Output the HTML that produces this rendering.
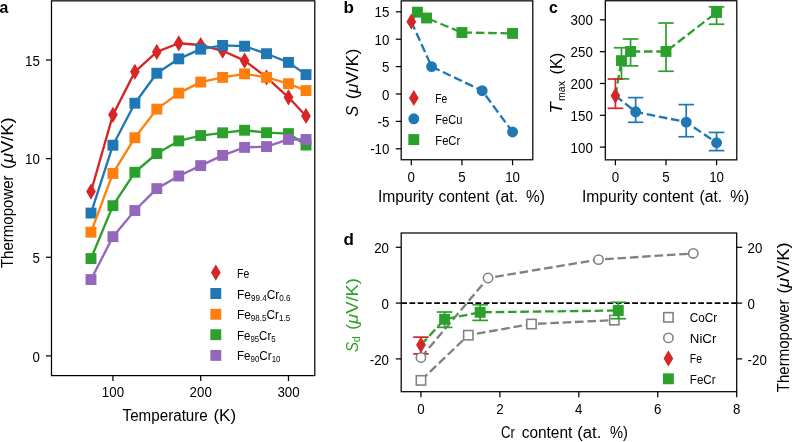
<!DOCTYPE html>
<html><head><meta charset="utf-8"><title>Figure</title>
<style>
html,body{margin:0;padding:0;background:#fff;}
body{width:794px;height:442px;overflow:hidden;}
svg{display:block;will-change:transform;font-family:"Liberation Sans", sans-serif;}
</style></head>
<body><svg width="794" height="442" viewBox="0 0 794 442">
<rect width="794" height="442" fill="#fff"/>
<g id="pa">
<polyline points="91,191.58 112.94,114.85 134.88,71.86 156.82,51.93 178.76,43.26 200.7,45.03 222.65,50.75 244.59,60.61 266.53,77.38 288.47,97.3 306.02,115.94" fill="none" stroke="#d62728" stroke-width="2.33" stroke-linejoin="round" stroke-linecap="round"/>
<path d="M91 184.98L94.96 191.58L91 198.18L87.03 191.58Z" fill="#d62728" stroke="#d62728" stroke-width="1.56" stroke-linejoin="miter"/>
<path d="M112.94 108.25L116.9 114.85L112.94 121.45L108.98 114.85Z" fill="#d62728" stroke="#d62728" stroke-width="1.56" stroke-linejoin="miter"/>
<path d="M134.88 65.25L138.84 71.86L134.88 78.46L130.92 71.86Z" fill="#d62728" stroke="#d62728" stroke-width="1.56" stroke-linejoin="miter"/>
<path d="M156.82 45.33L160.78 51.93L156.82 58.54L152.86 51.93Z" fill="#d62728" stroke="#d62728" stroke-width="1.56" stroke-linejoin="miter"/>
<path d="M178.76 36.65L182.72 43.26L178.76 49.86L174.8 43.26Z" fill="#d62728" stroke="#d62728" stroke-width="1.56" stroke-linejoin="miter"/>
<path d="M200.7 38.43L204.66 45.03L200.7 51.63L196.74 45.03Z" fill="#d62728" stroke="#d62728" stroke-width="1.56" stroke-linejoin="miter"/>
<path d="M222.65 44.15L226.61 50.75L222.65 57.35L218.68 50.75Z" fill="#d62728" stroke="#d62728" stroke-width="1.56" stroke-linejoin="miter"/>
<path d="M244.59 54.01L248.55 60.61L244.59 67.21L240.63 60.61Z" fill="#d62728" stroke="#d62728" stroke-width="1.56" stroke-linejoin="miter"/>
<path d="M266.53 70.78L270.49 77.38L266.53 83.98L262.57 77.38Z" fill="#d62728" stroke="#d62728" stroke-width="1.56" stroke-linejoin="miter"/>
<path d="M288.47 90.7L292.43 97.3L288.47 103.9L284.51 97.3Z" fill="#d62728" stroke="#d62728" stroke-width="1.56" stroke-linejoin="miter"/>
<path d="M306.02 109.34L309.98 115.94L306.02 122.54L302.06 115.94Z" fill="#d62728" stroke="#d62728" stroke-width="1.56" stroke-linejoin="miter"/>
<polyline points="91,213.08 112.94,145.23 134.88,103.22 156.82,73.24 178.76,58.84 200.7,49.17 222.65,45.43 244.59,46.21 266.53,53.71 288.47,62.39 306.02,74.62" fill="none" stroke="#1f77b4" stroke-width="2.33" stroke-linejoin="round" stroke-linecap="round"/>
<rect x="86.33" y="208.41" width="9.34" height="9.34" fill="#1f77b4" stroke="#1f77b4" stroke-width="1.56"/>
<rect x="108.27" y="140.56" width="9.34" height="9.34" fill="#1f77b4" stroke="#1f77b4" stroke-width="1.56"/>
<rect x="130.21" y="98.55" width="9.34" height="9.34" fill="#1f77b4" stroke="#1f77b4" stroke-width="1.56"/>
<rect x="152.15" y="68.57" width="9.34" height="9.34" fill="#1f77b4" stroke="#1f77b4" stroke-width="1.56"/>
<rect x="174.09" y="54.17" width="9.34" height="9.34" fill="#1f77b4" stroke="#1f77b4" stroke-width="1.56"/>
<rect x="196.04" y="44.51" width="9.34" height="9.34" fill="#1f77b4" stroke="#1f77b4" stroke-width="1.56"/>
<rect x="217.98" y="40.76" width="9.34" height="9.34" fill="#1f77b4" stroke="#1f77b4" stroke-width="1.56"/>
<rect x="239.92" y="41.55" width="9.34" height="9.34" fill="#1f77b4" stroke="#1f77b4" stroke-width="1.56"/>
<rect x="261.86" y="49.04" width="9.34" height="9.34" fill="#1f77b4" stroke="#1f77b4" stroke-width="1.56"/>
<rect x="283.8" y="57.72" width="9.34" height="9.34" fill="#1f77b4" stroke="#1f77b4" stroke-width="1.56"/>
<rect x="301.36" y="69.95" width="9.34" height="9.34" fill="#1f77b4" stroke="#1f77b4" stroke-width="1.56"/>
<polyline points="91,232.21 112.94,173.43 134.88,137.73 156.82,109.13 178.76,93.16 200.7,82.11 222.65,77.38 244.59,73.83 266.53,77.38 288.47,83.69 306.02,90.59" fill="none" stroke="#ff7f0e" stroke-width="2.33" stroke-linejoin="round" stroke-linecap="round"/>
<rect x="86.33" y="227.54" width="9.34" height="9.34" fill="#ff7f0e" stroke="#ff7f0e" stroke-width="1.56"/>
<rect x="108.27" y="168.76" width="9.34" height="9.34" fill="#ff7f0e" stroke="#ff7f0e" stroke-width="1.56"/>
<rect x="130.21" y="133.06" width="9.34" height="9.34" fill="#ff7f0e" stroke="#ff7f0e" stroke-width="1.56"/>
<rect x="152.15" y="104.47" width="9.34" height="9.34" fill="#ff7f0e" stroke="#ff7f0e" stroke-width="1.56"/>
<rect x="174.09" y="88.49" width="9.34" height="9.34" fill="#ff7f0e" stroke="#ff7f0e" stroke-width="1.56"/>
<rect x="196.04" y="77.44" width="9.34" height="9.34" fill="#ff7f0e" stroke="#ff7f0e" stroke-width="1.56"/>
<rect x="217.98" y="72.71" width="9.34" height="9.34" fill="#ff7f0e" stroke="#ff7f0e" stroke-width="1.56"/>
<rect x="239.92" y="69.16" width="9.34" height="9.34" fill="#ff7f0e" stroke="#ff7f0e" stroke-width="1.56"/>
<rect x="261.86" y="72.71" width="9.34" height="9.34" fill="#ff7f0e" stroke="#ff7f0e" stroke-width="1.56"/>
<rect x="283.8" y="79.02" width="9.34" height="9.34" fill="#ff7f0e" stroke="#ff7f0e" stroke-width="1.56"/>
<rect x="301.36" y="85.92" width="9.34" height="9.34" fill="#ff7f0e" stroke="#ff7f0e" stroke-width="1.56"/>
<polyline points="91,258.54 112.94,205.68 134.88,172.25 156.82,153.51 178.76,140.89 200.7,135.56 222.65,132.8 244.59,130.24 266.53,132.7 288.47,133.59 306.02,145.03" fill="none" stroke="#2ca02c" stroke-width="2.33" stroke-linejoin="round" stroke-linecap="round"/>
<rect x="86.33" y="253.87" width="9.34" height="9.34" fill="#2ca02c" stroke="#2ca02c" stroke-width="1.56"/>
<rect x="108.27" y="201.01" width="9.34" height="9.34" fill="#2ca02c" stroke="#2ca02c" stroke-width="1.56"/>
<rect x="130.21" y="167.58" width="9.34" height="9.34" fill="#2ca02c" stroke="#2ca02c" stroke-width="1.56"/>
<rect x="152.15" y="148.84" width="9.34" height="9.34" fill="#2ca02c" stroke="#2ca02c" stroke-width="1.56"/>
<rect x="174.09" y="136.22" width="9.34" height="9.34" fill="#2ca02c" stroke="#2ca02c" stroke-width="1.56"/>
<rect x="196.04" y="130.89" width="9.34" height="9.34" fill="#2ca02c" stroke="#2ca02c" stroke-width="1.56"/>
<rect x="217.98" y="128.13" width="9.34" height="9.34" fill="#2ca02c" stroke="#2ca02c" stroke-width="1.56"/>
<rect x="239.92" y="125.57" width="9.34" height="9.34" fill="#2ca02c" stroke="#2ca02c" stroke-width="1.56"/>
<rect x="261.86" y="128.03" width="9.34" height="9.34" fill="#2ca02c" stroke="#2ca02c" stroke-width="1.56"/>
<rect x="283.8" y="128.92" width="9.34" height="9.34" fill="#2ca02c" stroke="#2ca02c" stroke-width="1.56"/>
<rect x="301.36" y="140.36" width="9.34" height="9.34" fill="#2ca02c" stroke="#2ca02c" stroke-width="1.56"/>
<polyline points="91,279.55 112.94,236.65 134.88,210.51 156.82,188.62 178.76,176 200.7,165.64 222.65,155.39 244.59,147.4 266.53,146.61 288.47,139.41 306.02,139.51" fill="none" stroke="#9467bd" stroke-width="2.33" stroke-linejoin="round" stroke-linecap="round"/>
<rect x="86.33" y="274.88" width="9.34" height="9.34" fill="#9467bd" stroke="#9467bd" stroke-width="1.56"/>
<rect x="108.27" y="231.98" width="9.34" height="9.34" fill="#9467bd" stroke="#9467bd" stroke-width="1.56"/>
<rect x="130.21" y="205.84" width="9.34" height="9.34" fill="#9467bd" stroke="#9467bd" stroke-width="1.56"/>
<rect x="152.15" y="183.95" width="9.34" height="9.34" fill="#9467bd" stroke="#9467bd" stroke-width="1.56"/>
<rect x="174.09" y="171.33" width="9.34" height="9.34" fill="#9467bd" stroke="#9467bd" stroke-width="1.56"/>
<rect x="196.04" y="160.97" width="9.34" height="9.34" fill="#9467bd" stroke="#9467bd" stroke-width="1.56"/>
<rect x="217.98" y="150.72" width="9.34" height="9.34" fill="#9467bd" stroke="#9467bd" stroke-width="1.56"/>
<rect x="239.92" y="142.73" width="9.34" height="9.34" fill="#9467bd" stroke="#9467bd" stroke-width="1.56"/>
<rect x="261.86" y="141.94" width="9.34" height="9.34" fill="#9467bd" stroke="#9467bd" stroke-width="1.56"/>
<rect x="283.8" y="134.74" width="9.34" height="9.34" fill="#9467bd" stroke="#9467bd" stroke-width="1.56"/>
<rect x="301.36" y="134.84" width="9.34" height="9.34" fill="#9467bd" stroke="#9467bd" stroke-width="1.56"/>
<rect x="51.5" y="0.85" width="263.3" height="374.75" fill="none" stroke="#000" stroke-width="1.24"/>
<line x1="46.05" y1="355.88" x2="51.5" y2="355.88" stroke="#000" stroke-width="1.24"/>
<text transform="translate(39.8 361.5) scale(0.93 1)" font-size="14.3" text-anchor="end">0</text>
<line x1="46.05" y1="257.26" x2="51.5" y2="257.26" stroke="#000" stroke-width="1.24"/>
<text transform="translate(39.8 262.88) scale(0.93 1)" font-size="14.3" text-anchor="end">5</text>
<line x1="46.05" y1="158.64" x2="51.5" y2="158.64" stroke="#000" stroke-width="1.24"/>
<text transform="translate(39.8 164.26) scale(0.93 1)" font-size="14.3" text-anchor="end">10</text>
<line x1="46.05" y1="60.02" x2="51.5" y2="60.02" stroke="#000" stroke-width="1.24"/>
<text transform="translate(39.8 65.64) scale(0.93 1)" font-size="14.3" text-anchor="end">15</text>
<line x1="112.94" y1="375.6" x2="112.94" y2="381.05" stroke="#000" stroke-width="1.24"/>
<text transform="translate(112.94 396.9) scale(0.93 1)" font-size="14.3" text-anchor="middle">100</text>
<line x1="200.7" y1="375.6" x2="200.7" y2="381.05" stroke="#000" stroke-width="1.24"/>
<text transform="translate(200.7 396.9) scale(0.93 1)" font-size="14.3" text-anchor="middle">200</text>
<line x1="288.47" y1="375.6" x2="288.47" y2="381.05" stroke="#000" stroke-width="1.24"/>
<text transform="translate(288.47 396.9) scale(0.93 1)" font-size="14.3" text-anchor="middle">300</text>
<path d="M215.8 266L219.76 272.6L215.8 279.2L211.84 272.6Z" fill="#d62728" stroke="#d62728" stroke-width="1.56" stroke-linejoin="miter"/>
<text x="237" y="277.6" font-size="13.6" textLength="12.2" lengthAdjust="spacingAndGlyphs">Fe</text>
<rect x="211.13" y="288.83" width="9.34" height="9.34" fill="#1f77b4" stroke="#1f77b4" stroke-width="1.56"/>
<text x="237" y="298.5" font-size="13.6" textLength="53.6" lengthAdjust="spacingAndGlyphs">Fe<tspan font-size="9.2" dy="2">99.4</tspan><tspan dy="-2">Cr</tspan><tspan font-size="9.2" dy="2">0.6</tspan></text>
<rect x="211.13" y="309.63" width="9.34" height="9.34" fill="#ff7f0e" stroke="#ff7f0e" stroke-width="1.56"/>
<text x="237" y="319.3" font-size="13.6" textLength="53.2" lengthAdjust="spacingAndGlyphs">Fe<tspan font-size="9.2" dy="2">98.5</tspan><tspan dy="-2">Cr</tspan><tspan font-size="9.2" dy="2">1.5</tspan></text>
<rect x="211.13" y="330.03" width="9.34" height="9.34" fill="#2ca02c" stroke="#2ca02c" stroke-width="1.56"/>
<text x="237" y="339.7" font-size="13.6" textLength="38.6" lengthAdjust="spacingAndGlyphs">Fe<tspan font-size="9.2" dy="2">95</tspan><tspan dy="-2">Cr</tspan><tspan font-size="9.2" dy="2">5</tspan></text>
<rect x="211.13" y="350.73" width="9.34" height="9.34" fill="#9467bd" stroke="#9467bd" stroke-width="1.56"/>
<text x="237" y="360.4" font-size="13.6" textLength="43.4" lengthAdjust="spacingAndGlyphs">Fe<tspan font-size="9.2" dy="2">90</tspan><tspan dy="-2">Cr</tspan><tspan font-size="9.2" dy="2">10</tspan></text>
<text x="-0.4" y="12.7" font-size="15.8" font-weight="bold">a</text>
<text transform="translate(12.6 268.1) rotate(-90)" font-size="16" textLength="92.7" lengthAdjust="spacingAndGlyphs">Thermopower</text>
<text transform="translate(12.6 169.2) rotate(-90)" font-size="16" textLength="51.7" lengthAdjust="spacingAndGlyphs">(<tspan font-style="italic">μ</tspan>V/K)</text>
<text x="122.6" y="421" font-size="16" textLength="85.2" lengthAdjust="spacingAndGlyphs">Temperature</text>
<text x="213.4" y="421" font-size="16" textLength="22.7" lengthAdjust="spacingAndGlyphs">(K)</text>
</g>
<g id="pb">
<polyline points="411.32,21.67 431.57,66.6 482.18,90.71 512.55,131.97" fill="none" stroke="#1f77b4" stroke-width="2.33" stroke-linejoin="round" stroke-linecap="butt" stroke-dasharray="8.64 3.73"/>
<circle cx="431.57" cy="66.6" r="4.67" fill="#1f77b4" stroke="#1f77b4" stroke-width="1.56"/>
<circle cx="482.18" cy="90.71" r="4.67" fill="#1f77b4" stroke="#1f77b4" stroke-width="1.56"/>
<circle cx="512.55" cy="131.97" r="4.67" fill="#1f77b4" stroke="#1f77b4" stroke-width="1.56"/>
<polyline points="411.32,21.67 417.4,12.19 426.51,18 461.94,32.52 512.55,33.4" fill="none" stroke="#2ca02c" stroke-width="2.33" stroke-linejoin="round" stroke-linecap="butt" stroke-dasharray="8.64 3.73"/>
<rect x="412.73" y="7.52" width="9.34" height="9.34" fill="#2ca02c" stroke="#2ca02c" stroke-width="1.56"/>
<rect x="421.84" y="13.33" width="9.34" height="9.34" fill="#2ca02c" stroke="#2ca02c" stroke-width="1.56"/>
<rect x="457.27" y="27.85" width="9.34" height="9.34" fill="#2ca02c" stroke="#2ca02c" stroke-width="1.56"/>
<rect x="507.89" y="28.73" width="9.34" height="9.34" fill="#2ca02c" stroke="#2ca02c" stroke-width="1.56"/>
<path d="M411.32 15.07L415.28 21.67L411.32 28.27L407.36 21.67Z" fill="#d62728" stroke="#d62728" stroke-width="1.56" stroke-linejoin="miter"/>
<rect x="401.2" y="0.85" width="131.6" height="158.9" fill="none" stroke="#000" stroke-width="1.24"/>
<line x1="395.75" y1="11.81" x2="401.2" y2="11.81" stroke="#000" stroke-width="1.24"/>
<text transform="translate(389.4 17.43) scale(0.93 1)" font-size="14.3" text-anchor="end">15</text>
<line x1="395.75" y1="39.21" x2="401.2" y2="39.21" stroke="#000" stroke-width="1.24"/>
<text transform="translate(389.4 44.82) scale(0.93 1)" font-size="14.3" text-anchor="end">10</text>
<line x1="395.75" y1="66.6" x2="401.2" y2="66.6" stroke="#000" stroke-width="1.24"/>
<text transform="translate(389.4 72.22) scale(0.93 1)" font-size="14.3" text-anchor="end">5</text>
<line x1="395.75" y1="94" x2="401.2" y2="94" stroke="#000" stroke-width="1.24"/>
<text transform="translate(389.4 99.62) scale(0.93 1)" font-size="14.3" text-anchor="end">0</text>
<line x1="395.75" y1="121.39" x2="401.2" y2="121.39" stroke="#000" stroke-width="1.24"/>
<text transform="translate(389.4 127.01) scale(0.93 1)" font-size="14.3" text-anchor="end">-5</text>
<line x1="395.75" y1="148.79" x2="401.2" y2="148.79" stroke="#000" stroke-width="1.24"/>
<text transform="translate(389.4 154.41) scale(0.93 1)" font-size="14.3" text-anchor="end">-10</text>
<line x1="411.32" y1="159.75" x2="411.32" y2="165.2" stroke="#000" stroke-width="1.24"/>
<text transform="translate(411.32 182) scale(0.93 1)" font-size="14.3" text-anchor="middle">0</text>
<line x1="461.94" y1="159.75" x2="461.94" y2="165.2" stroke="#000" stroke-width="1.24"/>
<text transform="translate(461.94 182) scale(0.93 1)" font-size="14.3" text-anchor="middle">5</text>
<line x1="512.55" y1="159.75" x2="512.55" y2="165.2" stroke="#000" stroke-width="1.24"/>
<text transform="translate(512.55 182) scale(0.93 1)" font-size="14.3" text-anchor="middle">10</text>
<path d="M413.8 91.4L417.76 98L413.8 104.6L409.84 98Z" fill="#d62728" stroke="#d62728" stroke-width="1.56" stroke-linejoin="miter"/>
<text x="435.3" y="103" font-size="13.6" textLength="12" lengthAdjust="spacingAndGlyphs">Fe</text>
<circle cx="413.8" cy="118.8" r="4.67" fill="#1f77b4" stroke="#1f77b4" stroke-width="1.56"/>
<text x="435.3" y="123.8" font-size="13.6" textLength="27" lengthAdjust="spacingAndGlyphs">FeCu</text>
<rect x="409.13" y="134.93" width="9.34" height="9.34" fill="#2ca02c" stroke="#2ca02c" stroke-width="1.56"/>
<text x="435.3" y="144.6" font-size="13.6" textLength="24.9" lengthAdjust="spacingAndGlyphs">FeCr</text>
<text x="343.4" y="12.9" font-size="17" font-weight="bold">b</text>
<text transform="translate(358.2 116.6) rotate(-90)" font-size="16" font-style="italic" textLength="10.7" lengthAdjust="spacingAndGlyphs">S</text>
<text transform="translate(358.2 99.3) rotate(-90)" font-size="16" textLength="50.7" lengthAdjust="spacingAndGlyphs">(<tspan font-style="italic">μ</tspan>V/K)</text>
<text x="377.9" y="202" font-size="16" textLength="55.6" lengthAdjust="spacingAndGlyphs">Impurity</text>
<text x="438.4" y="202" font-size="16" textLength="51" lengthAdjust="spacingAndGlyphs">content</text>
<text x="495.3" y="202" font-size="16" textLength="22.8" lengthAdjust="spacingAndGlyphs">(at.</text>
<text x="526.1" y="202" font-size="16" textLength="18.9" lengthAdjust="spacingAndGlyphs">%)</text>
</g>
<g id="pc">
<polyline points="615.42,95.7 635.65,111.8 686.22,122.11 716.57,142.73" fill="none" stroke="#1f77b4" stroke-width="2.33" stroke-linejoin="round" stroke-linecap="butt" stroke-dasharray="8.64 3.73"/>
<polyline points="615.42,95.7 621.48,60.64 630.59,51.47 665.99,51.47 716.57,12.46" fill="none" stroke="#2ca02c" stroke-width="2.33" stroke-linejoin="round" stroke-linecap="butt" stroke-dasharray="8.64 3.73"/>
<line x1="635.65" y1="122.3" x2="635.65" y2="97.61" stroke="#1f77b4" stroke-width="1.71"/><line x1="627.87" y1="122.3" x2="643.43" y2="122.3" stroke="#1f77b4" stroke-width="1.71"/><line x1="627.87" y1="97.61" x2="643.43" y2="97.61" stroke="#1f77b4" stroke-width="1.71"/>
<line x1="686.22" y1="136.75" x2="686.22" y2="104.61" stroke="#1f77b4" stroke-width="1.71"/><line x1="678.44" y1="136.75" x2="694" y2="136.75" stroke="#1f77b4" stroke-width="1.71"/><line x1="678.44" y1="104.61" x2="694" y2="104.61" stroke="#1f77b4" stroke-width="1.71"/>
<line x1="716.57" y1="150.62" x2="716.57" y2="132.42" stroke="#1f77b4" stroke-width="1.71"/><line x1="708.79" y1="150.62" x2="724.35" y2="150.62" stroke="#1f77b4" stroke-width="1.71"/><line x1="708.79" y1="132.42" x2="724.35" y2="132.42" stroke="#1f77b4" stroke-width="1.71"/>
<line x1="621.48" y1="78.9" x2="621.48" y2="47.78" stroke="#2ca02c" stroke-width="1.71"/><line x1="613.7" y1="78.9" x2="629.26" y2="78.9" stroke="#2ca02c" stroke-width="1.71"/><line x1="613.7" y1="47.78" x2="629.26" y2="47.78" stroke="#2ca02c" stroke-width="1.71"/>
<line x1="630.59" y1="65.85" x2="630.59" y2="39" stroke="#2ca02c" stroke-width="1.71"/><line x1="622.81" y1="65.85" x2="638.37" y2="65.85" stroke="#2ca02c" stroke-width="1.71"/><line x1="622.81" y1="39" x2="638.37" y2="39" stroke="#2ca02c" stroke-width="1.71"/>
<line x1="665.99" y1="71.26" x2="665.99" y2="23.02" stroke="#2ca02c" stroke-width="1.71"/><line x1="658.21" y1="71.26" x2="673.77" y2="71.26" stroke="#2ca02c" stroke-width="1.71"/><line x1="658.21" y1="23.02" x2="673.77" y2="23.02" stroke="#2ca02c" stroke-width="1.71"/>
<line x1="716.57" y1="24.23" x2="716.57" y2="6.8" stroke="#2ca02c" stroke-width="1.71"/><line x1="708.79" y1="24.23" x2="724.35" y2="24.23" stroke="#2ca02c" stroke-width="1.71"/><line x1="708.79" y1="6.8" x2="724.35" y2="6.8" stroke="#2ca02c" stroke-width="1.71"/>
<line x1="615.42" y1="108.3" x2="615.42" y2="79.03" stroke="#d62728" stroke-width="1.71"/><line x1="607.64" y1="108.3" x2="623.2" y2="108.3" stroke="#d62728" stroke-width="1.71"/><line x1="607.64" y1="79.03" x2="623.2" y2="79.03" stroke="#d62728" stroke-width="1.71"/>
<circle cx="635.65" cy="111.8" r="4.67" fill="#1f77b4" stroke="#1f77b4" stroke-width="1.56"/>
<circle cx="686.22" cy="122.11" r="4.67" fill="#1f77b4" stroke="#1f77b4" stroke-width="1.56"/>
<circle cx="716.57" cy="142.73" r="4.67" fill="#1f77b4" stroke="#1f77b4" stroke-width="1.56"/>
<rect x="616.82" y="55.97" width="9.34" height="9.34" fill="#2ca02c" stroke="#2ca02c" stroke-width="1.56"/>
<rect x="625.92" y="46.8" width="9.34" height="9.34" fill="#2ca02c" stroke="#2ca02c" stroke-width="1.56"/>
<rect x="661.32" y="46.8" width="9.34" height="9.34" fill="#2ca02c" stroke="#2ca02c" stroke-width="1.56"/>
<rect x="711.9" y="7.79" width="9.34" height="9.34" fill="#2ca02c" stroke="#2ca02c" stroke-width="1.56"/>
<path d="M615.42 89.1L619.38 95.7L615.42 102.3L611.45 95.7Z" fill="#d62728" stroke="#d62728" stroke-width="1.56" stroke-linejoin="miter"/>
<rect x="605.3" y="0.75" width="131.5" height="159.1" fill="none" stroke="#000" stroke-width="1.24"/>
<line x1="599.85" y1="147.12" x2="605.3" y2="147.12" stroke="#000" stroke-width="1.24"/>
<text transform="translate(592.8 152.74) scale(0.93 1)" font-size="14.3" text-anchor="end">100</text>
<line x1="599.85" y1="115.3" x2="605.3" y2="115.3" stroke="#000" stroke-width="1.24"/>
<text transform="translate(592.8 120.92) scale(0.93 1)" font-size="14.3" text-anchor="end">150</text>
<line x1="599.85" y1="83.48" x2="605.3" y2="83.48" stroke="#000" stroke-width="1.24"/>
<text transform="translate(592.8 89.1) scale(0.93 1)" font-size="14.3" text-anchor="end">200</text>
<line x1="599.85" y1="51.66" x2="605.3" y2="51.66" stroke="#000" stroke-width="1.24"/>
<text transform="translate(592.8 57.28) scale(0.93 1)" font-size="14.3" text-anchor="end">250</text>
<line x1="599.85" y1="19.84" x2="605.3" y2="19.84" stroke="#000" stroke-width="1.24"/>
<text transform="translate(592.8 25.46) scale(0.93 1)" font-size="14.3" text-anchor="end">300</text>
<line x1="615.42" y1="159.85" x2="615.42" y2="165.3" stroke="#000" stroke-width="1.24"/>
<text transform="translate(615.42 182) scale(0.93 1)" font-size="14.3" text-anchor="middle">0</text>
<line x1="665.99" y1="159.85" x2="665.99" y2="165.3" stroke="#000" stroke-width="1.24"/>
<text transform="translate(665.99 182) scale(0.93 1)" font-size="14.3" text-anchor="middle">5</text>
<line x1="716.57" y1="159.85" x2="716.57" y2="165.3" stroke="#000" stroke-width="1.24"/>
<text transform="translate(716.57 182) scale(0.93 1)" font-size="14.3" text-anchor="middle">10</text>
<text x="548.9" y="12.7" font-size="15.8" font-weight="bold">c</text>
<text transform="translate(562 113.8) rotate(-90)" font-size="16" font-style="italic" textLength="11.4" lengthAdjust="spacingAndGlyphs">T</text>
<text transform="translate(564.6 101) rotate(-90)" font-size="10.5" textLength="19.9" lengthAdjust="spacingAndGlyphs">max</text>
<text transform="translate(562 74.5) rotate(-90)" font-size="16" textLength="21.8" lengthAdjust="spacingAndGlyphs">(K)</text>
<text x="582" y="202" font-size="16" textLength="55.6" lengthAdjust="spacingAndGlyphs">Impurity</text>
<text x="642.5" y="202" font-size="16" textLength="51" lengthAdjust="spacingAndGlyphs">content</text>
<text x="699.4" y="202" font-size="16" textLength="22.8" lengthAdjust="spacingAndGlyphs">(at.</text>
<text x="730.2" y="202" font-size="16" textLength="18.9" lengthAdjust="spacingAndGlyphs">%)</text>
</g>
<g id="pd">
<line x1="401.2" y1="303.1" x2="736.7" y2="303.1" stroke="#000" stroke-width="1.56" stroke-dasharray="5.76 2.49"/>
<line x1="420.94" y1="353.88" x2="420.94" y2="337.14" stroke="#d62728" stroke-width="1.71"/><line x1="413.16" y1="353.88" x2="428.72" y2="353.88" stroke="#d62728" stroke-width="1.71"/><line x1="413.16" y1="337.14" x2="428.72" y2="337.14" stroke="#d62728" stroke-width="1.71"/>
<polyline points="420.94,380.38 468.3,335.19 531.45,324.03 614.34,320.12" fill="none" stroke="#808080" stroke-width="2.33" stroke-linejoin="round" stroke-linecap="butt" stroke-dasharray="8.64 3.73"/>
<rect x="416.27" y="375.72" width="9.34" height="9.34" fill="#fff" stroke="#808080" stroke-width="1.56"/>
<rect x="463.63" y="330.52" width="9.34" height="9.34" fill="#fff" stroke="#808080" stroke-width="1.56"/>
<rect x="526.78" y="319.36" width="9.34" height="9.34" fill="#fff" stroke="#808080" stroke-width="1.56"/>
<rect x="609.67" y="315.45" width="9.34" height="9.34" fill="#fff" stroke="#808080" stroke-width="1.56"/>
<polyline points="420.94,357.5 488.04,277.99 598.55,259.58 693.28,253.44" fill="none" stroke="#808080" stroke-width="2.33" stroke-linejoin="round" stroke-linecap="butt" stroke-dasharray="8.64 3.73"/>
<circle cx="420.94" cy="357.5" r="4.67" fill="#fff" stroke="#808080" stroke-width="1.56"/>
<circle cx="488.04" cy="277.99" r="4.67" fill="#fff" stroke="#808080" stroke-width="1.56"/>
<circle cx="598.55" cy="259.58" r="4.67" fill="#fff" stroke="#808080" stroke-width="1.56"/>
<circle cx="693.28" cy="253.44" r="4.67" fill="#fff" stroke="#808080" stroke-width="1.56"/>
<polyline points="420.94,344.95 444.62,319.28 480.14,312.31 618.29,310.49" fill="none" stroke="#2ca02c" stroke-width="2.33" stroke-linejoin="round" stroke-linecap="butt" stroke-dasharray="8.64 3.73"/>
<line x1="444.62" y1="327.37" x2="444.62" y2="312.03" stroke="#2ca02c" stroke-width="1.71"/><line x1="436.84" y1="327.37" x2="452.4" y2="327.37" stroke="#2ca02c" stroke-width="1.71"/><line x1="436.84" y1="312.03" x2="452.4" y2="312.03" stroke="#2ca02c" stroke-width="1.71"/>
<line x1="480.14" y1="320.4" x2="480.14" y2="304.77" stroke="#2ca02c" stroke-width="1.71"/><line x1="472.36" y1="320.4" x2="487.92" y2="320.4" stroke="#2ca02c" stroke-width="1.71"/><line x1="472.36" y1="304.77" x2="487.92" y2="304.77" stroke="#2ca02c" stroke-width="1.71"/>
<line x1="618.29" y1="318.72" x2="618.29" y2="302.26" stroke="#2ca02c" stroke-width="1.71"/><line x1="610.51" y1="318.72" x2="626.07" y2="318.72" stroke="#2ca02c" stroke-width="1.71"/><line x1="610.51" y1="302.26" x2="626.07" y2="302.26" stroke="#2ca02c" stroke-width="1.71"/>
<rect x="439.95" y="314.61" width="9.34" height="9.34" fill="#2ca02c" stroke="#2ca02c" stroke-width="1.56"/>
<rect x="475.47" y="307.64" width="9.34" height="9.34" fill="#2ca02c" stroke="#2ca02c" stroke-width="1.56"/>
<rect x="613.62" y="305.83" width="9.34" height="9.34" fill="#2ca02c" stroke="#2ca02c" stroke-width="1.56"/>
<path d="M420.94 338.35L424.9 344.95L420.94 351.55L416.97 344.95Z" fill="#d62728" stroke="#d62728" stroke-width="1.56" stroke-linejoin="miter"/>
<rect x="401.2" y="233" width="335.5" height="158.7" fill="none" stroke="#000" stroke-width="1.24"/>
<line x1="395.75" y1="247.3" x2="401.2" y2="247.3" stroke="#000" stroke-width="1.24"/>
<text transform="translate(389 252.92) scale(0.93 1)" font-size="14.3" text-anchor="end">20</text>
<line x1="395.75" y1="303.1" x2="401.2" y2="303.1" stroke="#000" stroke-width="1.24"/>
<text transform="translate(389 308.72) scale(0.93 1)" font-size="14.3" text-anchor="end">0</text>
<line x1="395.75" y1="358.9" x2="401.2" y2="358.9" stroke="#000" stroke-width="1.24"/>
<text transform="translate(389 364.52) scale(0.93 1)" font-size="14.3" text-anchor="end">-20</text>
<line x1="736.7" y1="247.3" x2="742.15" y2="247.3" stroke="#000" stroke-width="1.24"/>
<text transform="translate(747.6 252.92) scale(0.93 1)" font-size="14.3">20</text>
<line x1="736.7" y1="303.1" x2="742.15" y2="303.1" stroke="#000" stroke-width="1.24"/>
<text transform="translate(747.6 308.72) scale(0.93 1)" font-size="14.3">0</text>
<line x1="736.7" y1="358.9" x2="742.15" y2="358.9" stroke="#000" stroke-width="1.24"/>
<text transform="translate(747.6 364.52) scale(0.93 1)" font-size="14.3">-20</text>
<line x1="420.94" y1="391.7" x2="420.94" y2="397.15" stroke="#000" stroke-width="1.24"/>
<text transform="translate(420.94 413.8) scale(0.93 1)" font-size="14.3" text-anchor="middle">0</text>
<line x1="499.88" y1="391.7" x2="499.88" y2="397.15" stroke="#000" stroke-width="1.24"/>
<text transform="translate(499.88 413.8) scale(0.93 1)" font-size="14.3" text-anchor="middle">2</text>
<line x1="578.82" y1="391.7" x2="578.82" y2="397.15" stroke="#000" stroke-width="1.24"/>
<text transform="translate(578.82 413.8) scale(0.93 1)" font-size="14.3" text-anchor="middle">4</text>
<line x1="657.76" y1="391.7" x2="657.76" y2="397.15" stroke="#000" stroke-width="1.24"/>
<text transform="translate(657.76 413.8) scale(0.93 1)" font-size="14.3" text-anchor="middle">6</text>
<line x1="736.7" y1="391.7" x2="736.7" y2="397.15" stroke="#000" stroke-width="1.24"/>
<text transform="translate(736.7 413.8) scale(0.93 1)" font-size="14.3" text-anchor="middle">8</text>
<rect x="663.73" y="312.63" width="9.34" height="9.34" fill="none" stroke="#808080" stroke-width="1.56"/>
<text x="689.8" y="322.3" font-size="13.6" textLength="27.4" lengthAdjust="spacingAndGlyphs">CoCr</text>
<circle cx="668.4" cy="337.9" r="4.67" fill="none" stroke="#808080" stroke-width="1.56"/>
<text x="689.8" y="342.9" font-size="13.6" textLength="26.6" lengthAdjust="spacingAndGlyphs">NiCr</text>
<path d="M668.4 351.8L672.36 358.4L668.4 365L664.44 358.4Z" fill="#d62728" stroke="#d62728" stroke-width="1.56" stroke-linejoin="miter"/>
<text x="689.8" y="363.4" font-size="13.6" textLength="12.2" lengthAdjust="spacingAndGlyphs">Fe</text>
<rect x="663.73" y="374.13" width="9.34" height="9.34" fill="#2ca02c" stroke="#2ca02c" stroke-width="1.56"/>
<text x="689.8" y="383.8" font-size="13.6" textLength="25.8" lengthAdjust="spacingAndGlyphs">FeCr</text>
<text x="343.4" y="245" font-size="17" font-weight="bold">d</text>
<text transform="translate(358.1 352.3) rotate(-90)" font-size="16" font-style="italic" fill="#2ca02c" textLength="10.3" lengthAdjust="spacingAndGlyphs">S</text>
<text transform="translate(359.5 342.3) rotate(-90)" font-size="10.2" fill="#2ca02c" textLength="5.9" lengthAdjust="spacingAndGlyphs">d</text>
<text transform="translate(358.1 330.1) rotate(-90)" font-size="16" fill="#2ca02c" textLength="52.1" lengthAdjust="spacingAndGlyphs">(<tspan font-style="italic">μ</tspan>V/K)</text>
<text transform="translate(789.3 392.3) rotate(-90)" font-size="16" textLength="92.9" lengthAdjust="spacingAndGlyphs">Thermopower</text>
<text transform="translate(789.3 293.8) rotate(-90)" font-size="16" textLength="51.3" lengthAdjust="spacingAndGlyphs">(<tspan font-style="italic">μ</tspan>V/K)</text>
<text x="501.1" y="438.3" font-size="16" textLength="13.9" lengthAdjust="spacingAndGlyphs">Cr</text>
<text x="521.7" y="438.3" font-size="16" textLength="50.6" lengthAdjust="spacingAndGlyphs">content</text>
<text x="577.3" y="438.3" font-size="16" textLength="24.1" lengthAdjust="spacingAndGlyphs">(at.</text>
<text x="609.9" y="438.3" font-size="16" textLength="18" lengthAdjust="spacingAndGlyphs">%)</text>
</g>
</svg></body></html>
